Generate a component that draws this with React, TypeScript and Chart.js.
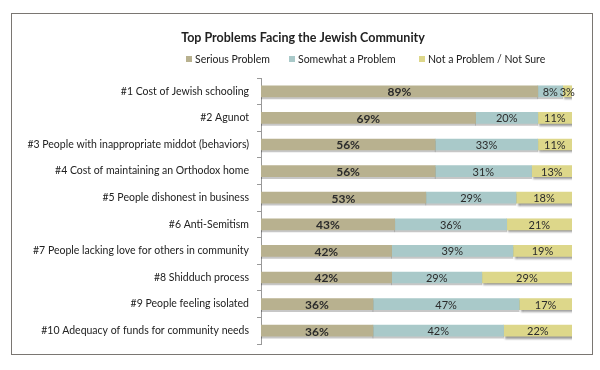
import React, { useEffect, useRef } from "react";
import { Chart, registerables } from "chart.js";

Chart.register(...registerables);

const TITLE = "Top Problems Facing the Jewish Community";
const categories = [
  "#1 Cost of Jewish schooling",
  "#2 Agunot",
  "#3 People with inappropriate middot (behaviors)",
  "#4 Cost of maintaining an Orthodox home",
  "#5 People dishonest in business",
  "#6 Anti-Semitism",
  "#7 People lacking love for others in community",
  "#8 Shidduch process",
  "#9 People feeling isolated",
  "#10 Adequacy of funds for community needs",
];
const seriesNames = ["Serious Problem", "Somewhat a Problem", "Not a Problem / Not Sure"];
const serious = [89, 69, 56, 56, 53, 43, 42, 42, 36, 36];
const somewhat = [8, 20, 33, 31, 29, 36, 39, 29, 47, 42];
const notProblem = [3, 11, 11, 13, 18, 21, 19, 29, 17, 22];
const colors = ["#b8b18f", "#a9c9c9", "#ddd78a"];

const FONT = "Lato, 'Open Sans', sans-serif";

const shadowPlugin = {
  id: "barShadow",
  beforeDatasetDraw(chart: any, args: any) {
    const ctx = chart.ctx;
    ctx.save();
    if (args.index === 2) {
      ctx.shadowColor = "rgba(0,0,0,0.4)";
      ctx.shadowOffsetX = 2;
      ctx.shadowOffsetY = 2;
      ctx.shadowBlur = 2;
    } else {
      ctx.shadowColor = "rgba(0,0,0,0.22)";
      ctx.shadowOffsetX = 0;
      ctx.shadowOffsetY = 2;
      ctx.shadowBlur = 0;
    }
  },
  afterDatasetDraw(chart: any) {
    chart.ctx.restore();
  },
};

const labelPlugin = {
  id: "segLabels",
  afterDatasetsDraw(chart: any) {
    const ctx = chart.ctx;
    ctx.save();
    ctx.textBaseline = "middle";
    ctx.textAlign = "center";
    chart.data.datasets.forEach((ds: any, di: number) => {
      const meta = chart.getDatasetMeta(di);
      meta.data.forEach((bar: any, i: number) => {
        const v = ds.data[i];
        const left = Math.min(bar.x, bar.base);
        const right = Math.max(bar.x, bar.base);
        ctx.fillStyle = "#2b2b2b";
        ctx.font = di === 0 ? `bold 12px ${FONT}` : `11px ${FONT}`;
        ctx.fillText(v + "%", (left + right) / 2, bar.y + 1);
      });
    });
    ctx.restore();
  },
};

const headerPlugin = {
  id: "header",
  afterDraw(chart: any) {
    const ctx = chart.ctx;
    ctx.save();
    ctx.textBaseline = "middle";
    ctx.fillStyle = "#222";
    ctx.font = `bold 12.5px ${FONT}`;
    ctx.textAlign = "center";
    ctx.fillText(TITLE, 303, 38);
    ctx.font = `10.5px ${FONT}`;
    ctx.textAlign = "left";
    const xs = [186, 289, 419];
    seriesNames.forEach((n, i) => {
      ctx.fillStyle = colors[i];
      ctx.fillRect(xs[i], 56, 6, 6);
      ctx.fillStyle = "#222";
      ctx.fillText(n, xs[i] + 9, 59.5);
    });
    ctx.restore();
  },
};

export default function App() {
  const ref = useRef<HTMLCanvasElement>(null);
  useEffect(() => {
    if (!ref.current) return;
    const chart = new Chart(ref.current, {
      type: "bar",
      data: {
        labels: categories,
        datasets: [serious, somewhat, notProblem].map((d, i) => ({
          label: seriesNames[i],
          data: d,
          backgroundColor: colors[i],
          borderWidth: 0,
          barThickness: 11,
        })),
      },
      options: {
        indexAxis: "y",
        responsive: false,
        animation: false,
        layout: { padding: { left: 0, right: 28, top: 78, bottom: 26 } },
        plugins: {
          legend: { display: false },
          title: { display: false },
          tooltip: { enabled: false },
        },
        scales: {
          x: {
            stacked: true,
            min: 0,
            max: 100,
            display: false,
          },
          y: {
            stacked: true,
            afterFit(scale: any) {
              scale.width = 261;
            },
            border: { display: true, color: "#999", width: 1 },
            grid: {
              display: true,
              offset: true,
              drawOnChartArea: false,
              drawTicks: true,
              tickLength: 4,
              color: "#999",
            },
            ticks: {
              padding: 8,
              color: "#222",
              font: { family: FONT, size: 10.5 },
            },
          },
        },
      },
      plugins: [shadowPlugin, labelPlugin, headerPlugin],
    });
    return () => chart.destroy();
  }, []);
  return (
    <div style={{ position: "absolute", left: 0, top: 0, width: 600, height: 370, background: "#fff" }}>
      <div
        style={{
          position: "absolute",
          left: 11,
          top: 13,
          width: 580,
          height: 340,
          border: "1.5px solid #7a7672",
        }}
      />
      <canvas ref={ref} width={600} height={370} style={{ position: "absolute", left: 0, top: 0 }} />
    </div>
  );
}
